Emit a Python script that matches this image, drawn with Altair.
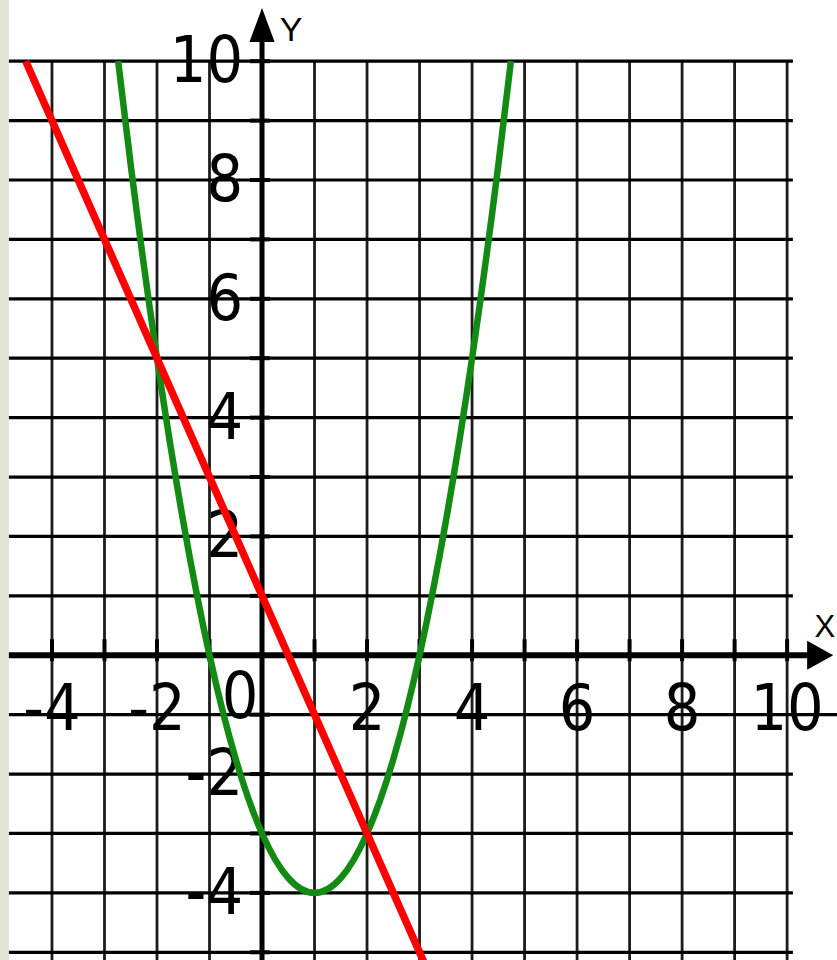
import altair as alt
import pandas as pd

# Visible window of the coordinate plane (data units)
X_MIN, X_MAX = -4.99, 10.95
Y_MIN, Y_MAX = -5.13, 11.03
GRID_LEFT, GRID_RIGHT, GRID_TOP = -4.82, 10.11, 10

# Grid lines at every integer
grid_x = list(range(-4, 11))
grid_y = list(range(-5, 11))

# Tick labels
x_tick_labels = [-4, -2, 2, 4, 6, 8, 10]
y_tick_labels = [-4, -2, 2, 4, 6, 8, 10]

# Parabola y = x^2 - 2x - 3
parab_x = [-2.74, -2.5, -2, -1.5, -1, -0.5, 0, 0.5, 1, 1.5, 2, 2.5, 3, 3.5, 4, 4.5, 4.74]
parab_y = [10, 8.25, 5, 2.25, 0, -1.75, -3, -3.75, -4, -3.75, -3, -1.75, 0, 2.25, 5, 8.25, 10]

# Straight line y = -2x + 1
line_x = [-4.5, -2, 0, 2, 3.1]
line_y = [10, 5, 1, -3, -5.2]

W, H = 837, 960
FONT = "Liberation Sans Narrow, DejaVu Sans Condensed, Liberation Mono"

xs = alt.Scale(domain=[X_MIN, X_MAX], nice=False, zero=False)
ys = alt.Scale(domain=[Y_MIN, Y_MAX], nice=False, zero=False)


def X(f):
    return alt.X(f, type="quantitative", scale=xs, axis=None)


def Y(f):
    return alt.Y(f, type="quantitative", scale=ys, axis=None)


# light margin strip on the left
strip = alt.Chart(pd.DataFrame({"x": [X_MIN], "x2": [GRID_LEFT], "y": [Y_MIN], "y2": [Y_MAX]})).mark_rect(
    color="#e0e5d5"
).encode(x=X("x"), x2="x2", y=Y("y"), y2="y2")

vgrid = alt.Chart(pd.DataFrame({"x": grid_x, "y": [GRID_TOP] * len(grid_x), "y2": [Y_MIN] * len(grid_x)})).mark_rule(
    color="#1c1c1c", strokeWidth=2.8
).encode(x=X("x"), y=Y("y"), y2="y2")

hgrid_df = pd.DataFrame({
    "y": grid_y,
    "x": [GRID_LEFT] * len(grid_y),
    "x2": [X_MAX if v == -1 else GRID_RIGHT for v in grid_y],
})
hgrid = alt.Chart(hgrid_df).mark_rule(color="#000000", strokeWidth=3.2).encode(x=X("x"), x2="x2", y=Y("y"))

# axes
x_axis = alt.Chart(pd.DataFrame({"x": [GRID_LEFT], "x2": [10.4], "y": [0]})).mark_rule(
    color="#000000", strokeWidth=6
).encode(x=X("x"), x2="x2", y=Y("y"))
y_axis = alt.Chart(pd.DataFrame({"x": [0], "y": [Y_MIN], "y2": [10.4]})).mark_rule(
    color="#000000", strokeWidth=5
).encode(x=X("x"), y=Y("y"), y2="y2")

xt = [v for v in grid_x if v != 0]
x_ticks = alt.Chart(pd.DataFrame({"x": xt, "y": [-0.1] * len(xt), "y2": [0.27] * len(xt)})).mark_rule(
    color="#000000", strokeWidth=4
).encode(x=X("x"), y=Y("y"), y2="y2")
yt = [v for v in grid_y if v != 0]
y_ticks = alt.Chart(pd.DataFrame({"y": yt, "x": [-0.23] * len(yt), "x2": [0.15] * len(yt)})).mark_rule(
    color="#000000", strokeWidth=4
).encode(x=X("x"), x2="x2", y=Y("y"))

x_arrow = alt.Chart(pd.DataFrame({"x": [10.63], "y": [0]})).mark_point(
    shape="M-0.9,-1L0.9,0L-0.9,1Z", filled=True, size=841, color="#000000", opacity=1, strokeWidth=0
).encode(x=X("x"), y=Y("y"))
y_arrow = alt.Chart(pd.DataFrame({"x": [0], "y": [10.61]})).mark_point(
    shape="M0,-1L0.74,1L-0.74,1Z", filled=True, size=1156, color="#000000", opacity=1, strokeWidth=0
).encode(x=X("x"), y=Y("y"))

# tick labels
x_lab = alt.Chart(pd.DataFrame({"x": x_tick_labels, "y": [0] * len(x_tick_labels),
                                "t": [str(v) for v in x_tick_labels]})).mark_text(
    font=FONT, fontSize=64, color="#000000", align="center", baseline="middle", dy=56
).encode(x=X("x"), y=Y("y"), text="t:N")
y_lab = alt.Chart(pd.DataFrame({"y": y_tick_labels, "x": [0] * len(y_tick_labels),
                                "t": [str(v) for v in y_tick_labels]})).mark_text(
    font=FONT, fontSize=64, color="#000000", align="right", baseline="middle", dx=-19, dy=2
).encode(x=X("x"), y=Y("y"), text="t:N")
zero_lab = alt.Chart(pd.DataFrame({"x": [0], "y": [0], "t": ["0"]})).mark_text(
    font=FONT, fontSize=64, color="#000000", align="center", baseline="middle", dx=-22, dy=44
).encode(x=X("x"), y=Y("y"), text="t:N")

# axis names
y_name = alt.Chart(pd.DataFrame({"x": [0], "y": [10.6], "t": ["Y"]})).mark_text(
    font="Liberation Sans", fontSize=34, color="#000000", align="center", baseline="middle", dx=29, dy=5
).encode(x=X("x"), y=Y("y"), text="t:N")
x_name = alt.Chart(pd.DataFrame({"x": [10.63], "y": [0], "t": ["X"]})).mark_text(
    font="Liberation Sans", fontSize=31, color="#000000", align="right", baseline="middle", dx=15, dy=-27
).encode(x=X("x"), y=Y("y"), text="t:N")

parabola = alt.Chart(pd.DataFrame({"x": parab_x, "y": parab_y})).mark_line(
    color="#138a13", strokeWidth=6.5, interpolate="monotone", clip=True
).encode(x=X("x"), y=Y("y"))
line = alt.Chart(pd.DataFrame({"x": line_x, "y": line_y})).mark_line(
    color="#ff0000", strokeWidth=7.5, clip=True
).encode(x=X("x"), y=Y("y"))

chart = alt.layer(
    strip, vgrid, hgrid, x_axis, y_axis, x_ticks, y_ticks, x_arrow, y_arrow,
    x_lab, y_lab, zero_lab, y_name, x_name, parabola, line
).properties(
    width=W, height=H, autosize=alt.AutoSizeParams(type="none"), padding=0, background="#ffffff"
).configure_view(stroke=None)

chart.save("out.html", embed_options={"renderer": "svg", "actions": False})
